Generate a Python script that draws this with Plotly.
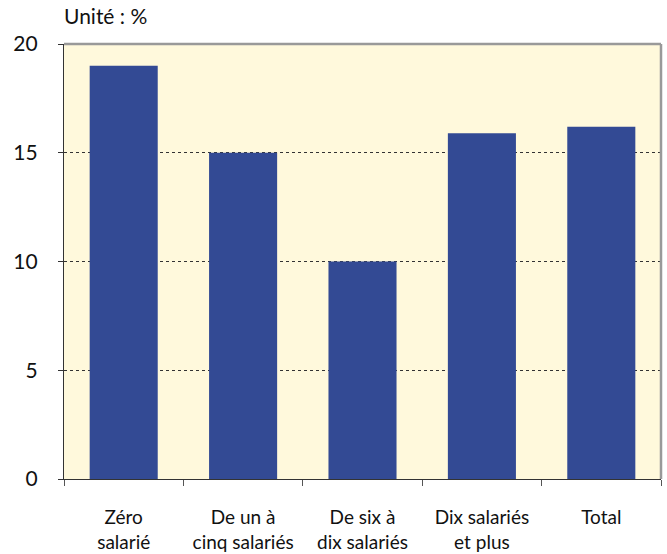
import plotly.graph_objects as go

categories = ["Zéro<br>salarié", "De un à<br>cinq salariés", "De six à<br>dix salariés",
              "Dix salariés<br>et plus", "Total"]
values = [19.0, 15.0, 10.0, 15.9, 16.2]
y_ticks = [0, 5, 10, 15, 20]

BG = "#FFF9DC"
BAR = "#334A94"
FONT = "Lato, Open Sans, sans-serif"

fig = go.Figure(go.Bar(x=categories, y=values, marker_color=BAR, marker_line_width=0,
                       width=0.57))

fig.update_layout(
    width=667, height=554,
    margin=dict(l=64, r=6, t=44, b=75),
    paper_bgcolor="white", plot_bgcolor=BG,
    font=dict(family=FONT, size=18, color="#111"),
    showlegend=False,
    bargap=0.43,
    annotations=[dict(text="Unité : %", xref="paper", yref="paper", x=-0.003, y=1.0,
                      xanchor="left", yanchor="bottom", yshift=14, showarrow=False,
                      font=dict(family=FONT, size=21, color="#111"))],
    shapes=[
        dict(type="line", xref="paper", yref="paper", x0=0, x1=1, y0=1, y1=1,
             line=dict(color="#999", width=2.5)),
        dict(type="line", xref="paper", yref="paper", x0=1, x1=1, y0=0, y1=1,
             line=dict(color="#999", width=2.5)),
    ],
)

fig.update_xaxes(showline=True, linecolor="#333", linewidth=1.2, automargin=False,
                 ticks="outside", tickson="boundaries", ticklen=6, tickcolor="#555",
                 ticklabelstandoff=21, showgrid=False,
                 tickfont=dict(family=FONT, size=19, color="#111"))
fig.update_yaxes(range=[0, 20], tickvals=y_ticks, showline=True, linecolor="#333",
                 linewidth=1.2, ticks="outside", ticklen=5, tickcolor="#333",
                 ticklabelstandoff=16, showgrid=True, gridcolor="#333", griddash="3px,3px",
                 gridwidth=1.3, zeroline=False, automargin=False,
                 tickfont=dict(family=FONT, size=21, color="#111"))

fig.write_html("out.html", post_script="document.body.style.margin='0';",
               config={"displayModeBar": False})
